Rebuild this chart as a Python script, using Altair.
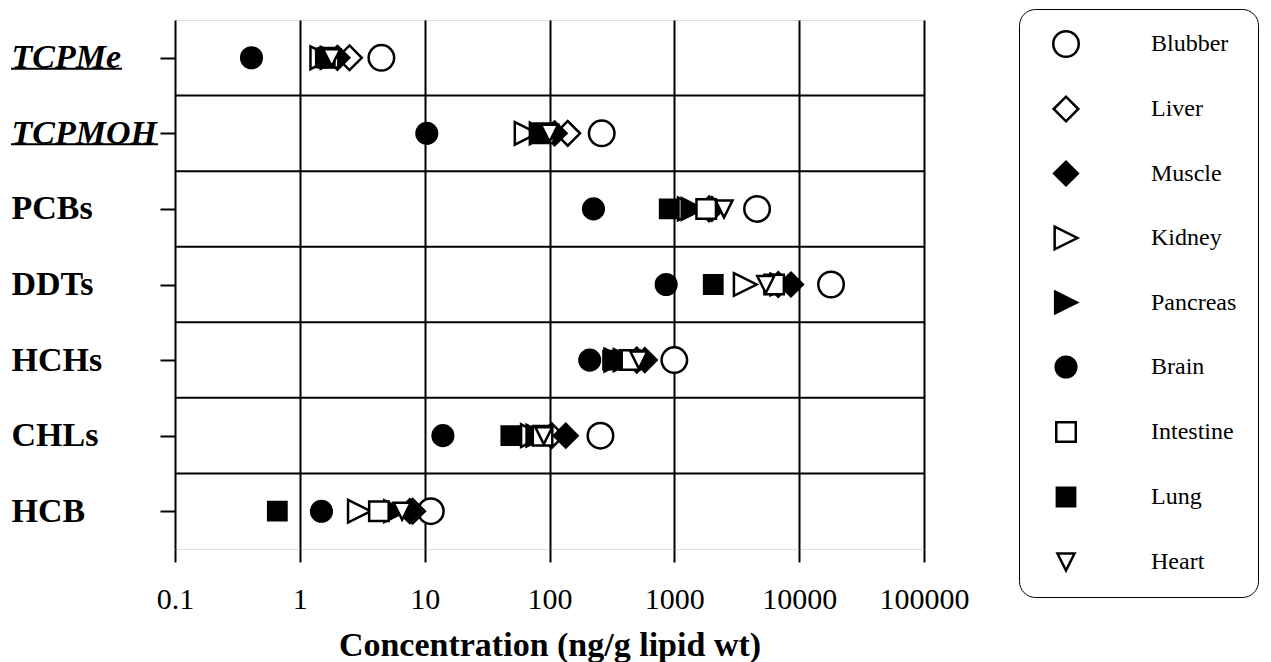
import json
import altair as alt
import pandas as pd

compounds = ["TCPMe", "TCPMOH", "PCBs", "DDTs", "HCHs", "CHLs", "HCB"]
tissues = ["Blubber", "Liver", "Muscle", "Kidney", "Pancreas", "Brain", "Intestine", "Lung", "Heart"]

# concentrations (ng/g lipid wt), one value per compound in the order above
blubber = [4.5, 262, 4600, 18000, 1000, 256, 11.2]
liver = [2.5, 140, 1900, 6800, 500, 104, 8.0]
muscle = [2.0, 110, 2000, 8600, 580, 135, 7.6]
kidney = [1.5, 65, 1320, 3700, 340, 73, 3.0]
pancreas = [1.8, 85, 1400, 7200, 400, 80, 5.8]
brain = [0.41, 10.4, 225, 860, 210, 14, 1.49]
intestine = [1.7, 90, 1800, 6300, 440, 88, 4.3]
lung = [1.6, 83, 910, 2050, 320, 49, 0.66]
heart = [1.8, 100, 2500, 5400, 520, 90, 6.6]

series = [blubber, liver, muscle, kidney, pancreas, brain, intestine, lung, heart]

tri_right = "M-1,-1L1,0L-1,1Z"
tri_down = "M-1,-1L1,-1L0,1Z"
shapes = ["circle", "diamond", "diamond", tri_right, tri_right, "circle", "square", "square", tri_down]
fills = ["white", "white", "black", "white", "black", "black", "white", "black", "white"]
strokes = ["black"] * len(tissues)
sizes = [650, 290, 330, 400, 400, 500, 400, 480, 400]

rows = []
for t, vals in zip(tissues, series):
    for i, (c, v) in enumerate(zip(compounds, vals)):
        rows.append({"tissue": t, "compound": c, "row": i, "value": v})
df = pd.DataFrame(rows)

seps = pd.DataFrame({"sep": [i + 0.5 for i in range(len(compounds) - 1)]})
under = pd.DataFrame({"row": [0, 1], "compound": compounds[:2]})

FONT = "Liberation Serif"

x_scale = alt.Scale(type="log", domain=[0.1, 100000], nice=False)
y_scale = alt.Scale(domain=[-0.5, len(compounds) - 0.5], reverse=True, nice=False, zero=False)

label_expr = json.dumps(compounds) + "[datum.value]"

x_axis = alt.Axis(
    values=[0.1, 1, 10, 100, 1000, 10000, 100000],
    format="~g",
    grid=True, gridColor="black", gridWidth=2, gridOpacity=1,
    domain=False,
    tickSize=13, tickWidth=2, tickColor="black",
    labelFont=FONT, labelFontSize=30, labelColor="black", labelPadding=22,
    labelFlush=False, labelOverlap=False,
    title="Concentration (ng/g lipid wt)",
    titleFont=FONT, titleFontSize=34, titleFontWeight="bold", titleColor="black",
    titlePadding=14,
)

y_axis = alt.Axis(
    values=list(range(len(compounds))),
    labelExpr=label_expr,
    grid=False, domain=False,
    tickSize=15, tickWidth=2, tickColor="black",
    labelFont=FONT, labelFontSize=34, labelFontWeight="bold", labelColor="black",
    labelFontStyle={"condition": {"test": "datum.value < 1.5", "value": "italic"}, "value": "normal"},
    labelAlign="left", labelPadding=149, labelBaseline="middle",
    title=None,
)

legend = alt.Legend(
    title=None, orient="none", legendX=844, legendY=-11,
    strokeColor="black", cornerRadius=16, padding=21,
    fillColor="white",
    labelFont=FONT, labelFontSize=24, labelColor="black",
    labelOffset=71, symbolOffset=12, rowPadding=29,
    gridAlign="all",
    symbolStrokeWidth=2.5,
)

separators = alt.Chart(seps).mark_rule(color="black", strokeWidth=2).encode(
    y=alt.Y("sep:Q", scale=y_scale, axis=y_axis)
)

points = alt.Chart(df).mark_point(filled=True, strokeWidth=2.5, opacity=1).encode(
    x=alt.X("value:Q", scale=x_scale, axis=x_axis),
    y=alt.Y("row:Q", scale=y_scale, axis=y_axis),
    shape=alt.Shape("tissue:N", scale=alt.Scale(domain=tissues, range=shapes), legend=legend, sort=tissues),
    fill=alt.Fill("tissue:N", scale=alt.Scale(domain=tissues, range=fills), legend=legend, sort=tissues),
    stroke=alt.Stroke("tissue:N", scale=alt.Scale(domain=tissues, range=strokes), legend=legend, sort=tissues),
    size=alt.Size("tissue:N", scale=alt.Scale(domain=tissues, range=sizes), legend=legend, sort=tissues),
    order=alt.Order("tissue_order:Q"),
).transform_calculate(
    tissue_order="indexof(" + json.dumps(tissues) + ", datum.tissue)"
)

underlines_a = alt.Chart(under[under.row == 0]).mark_rule(color="black", strokeWidth=2, yOffset=11).encode(
    y=alt.Y("row:Q", scale=y_scale, axis=y_axis),
    x=alt.value(-164), x2=alt.value(-53),
)
underlines_b = alt.Chart(under[under.row == 1]).mark_rule(color="black", strokeWidth=2, yOffset=11).encode(
    y=alt.Y("row:Q", scale=y_scale, axis=y_axis),
    x=alt.value(-164), x2=alt.value(-17),
)

chart = alt.layer(separators, points, underlines_a, underlines_b).properties(
    width=749, height=529,
    padding={"left": 2, "top": 0, "right": 0, "bottom": 0},
).configure_view(
    stroke="black", strokeWidth=2
).configure_legend(
    strokeWidth=2
).configure(
    font=FONT
)

chart.save("out.html", embed_options={"renderer": "svg", "actions": False})
